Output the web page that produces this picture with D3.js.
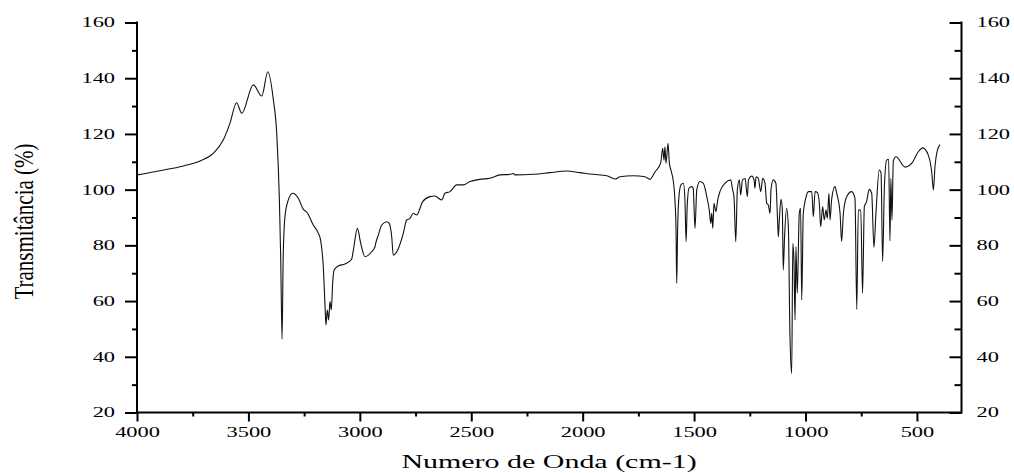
<!DOCTYPE html>
<html>
<head>
<meta charset="utf-8">
<script src="https://cdn.jsdelivr.net/npm/d3@7"></script>
<style>
  html, body { margin: 0; padding: 0; background: #fff; }
  svg { display: block; }
</style>
</head>
<body>
<div id="chart"></div>
<script>
// Wavenumber (cm-1) and transmittance (%)
const waveNumbers = [
  4000, 3897, 3792, 3717, 3658, 3613, 3583, 3553, 3530, 3478, 3440, 3413, 3388, 3373, 3361, 3355, 3349, 3344,
  3336, 3321, 3301, 3276, 3254, 3236, 3209, 3186, 3176, 3164, 3156, 3152, 3146, 3140, 3134, 3128, 3122, 3115,
  3097, 3067, 3037, 3029, 3011, 2996, 2977, 2947, 2932, 2928, 2917, 2902, 2879, 2868, 2857, 2850, 2827, 2805,
  2790, 2775, 2760, 2745, 2718, 2685, 2663, 2633, 2618, 2595, 2565, 2536, 2506, 2461, 2416, 2371, 2326, 2311,
  2304, 2222, 2147, 2072, 2012, 1952, 1892, 1855, 1833, 1773, 1720, 1698, 1675, 1650, 1641, 1635, 1631, 1626,
  1617, 1611, 1604, 1593, 1586, 1581, 1578, 1574, 1568, 1559, 1548, 1541, 1536, 1531, 1523, 1511, 1504, 1496,
  1488, 1474, 1459, 1443, 1432, 1425, 1421, 1416, 1411, 1402, 1394, 1384, 1361, 1336, 1327, 1321, 1313, 1306,
  1297, 1291, 1283, 1271, 1261, 1256, 1241, 1231, 1227, 1222, 1212, 1201, 1192, 1182, 1174, 1167, 1159, 1155,
  1145, 1133, 1126, 1122, 1118, 1110, 1104, 1100, 1094, 1085, 1077, 1070, 1062, 1057, 1052, 1047, 1043, 1037,
  1028, 1022, 1017, 1010, 999, 987, 972, 965, 957, 947, 938, 932, 923, 916, 908, 902, 895, 890,
  883, 868, 860, 845, 838, 830, 815, 793, 778, 770, 763, 752, 744, 736, 726, 714, 703, 693,
  684, 669, 661, 654, 646, 636, 627, 621, 617, 612, 606, 594, 553, 523, 494, 474, 449, 434,
  426, 419, 408, 396
];
const transmittance = [
  105.3, 106.8, 108.5, 110.3, 113.0, 117.8, 123.8, 131.2, 127.4, 137.6, 133.6, 142.3, 132.2, 120.2, 96.3, 75.0, 46.3, 75.9,
  90.3, 96.3, 98.7, 96.9, 93.0, 91.7, 87.3, 84.3, 81.9, 72.3, 58.0, 51.4, 56.8, 53.2, 59.8, 56.8, 66.4, 71.2,
  72.6, 73.3, 75.0, 78.3, 86.1, 80.7, 75.9, 77.7, 79.5, 81.0, 83.7, 87.3, 88.5, 87.9, 83.1, 76.5, 78.9, 84.3,
  89.1, 89.7, 91.5, 90.9, 95.7, 97.5, 97.7, 96.3, 98.7, 99.3, 101.7, 101.7, 102.9, 103.7, 104.1, 105.3, 105.5, 105.8,
  105.3, 105.5, 106.1, 106.7, 106.1, 105.5, 105.0, 103.8, 104.6, 105.0, 104.6, 103.7, 106.4, 109.5, 114.8, 110.6, 115.4, 109.5,
  116.6, 109.5, 107.0, 102.9, 96.3, 85.5, 66.4, 85.5, 97.5, 101.7, 102.3, 96.3, 81.3, 93.9, 100.5, 101.1, 100.5, 86.1,
  99.9, 102.9, 102.3, 97.5, 92.7, 87.9, 91.5, 86.1, 95.1, 92.1, 96.3, 99.3, 102.3, 103.5, 99.9, 97.5, 81.3, 99.9,
  103.5, 98.1, 103.5, 104.0, 97.5, 103.5, 104.9, 103.5, 100.5, 104.6, 104.1, 99.3, 104.1, 102.3, 95.1, 94.5, 91.5, 99.9,
  103.5, 102.3, 90.3, 83.1, 88.5, 96.5, 92.7, 71.2, 83.1, 93.3, 86.7, 48.4, 34.0, 80.7, 74.7, 53.2, 79.5, 62.8,
  91.5, 93.3, 60.4, 91.5, 96.9, 99.3, 99.3, 90.3, 99.3, 99.0, 95.1, 86.7, 93.9, 89.1, 92.7, 89.7, 98.7, 89.1,
  96.3, 101.1, 98.7, 91.5, 81.3, 91.5, 97.5, 99.3, 96.9, 57.0, 92.7, 92.7, 62.8, 93.9, 95.7, 100.1, 98.7, 79.3,
  91.5, 107.0, 106.0, 74.2, 101.1, 110.6, 110.9, 81.6, 104.0, 89.1, 110.3, 111.8, 108.1, 109.5, 113.6, 115.0, 112.4, 106.5,
  99.9, 108.2, 114.2, 116.2
];
const xTicks = [4000, 3500, 3000, 2500, 2000, 1500, 1000, 500];
const xMinorTicks = [3750, 3250, 2750, 2250, 1750, 1250, 750];
const yTicks = [20, 40, 60, 80, 100, 120, 140, 160];
const yMinorTicks = [30, 50, 70, 90, 110, 130, 150];

(function () {
  const W = 1014, H = 473;
  const plot = { left: 137, right: 961.5, top: 22.5, bottom: 412.5 };
  const fontFam = "'Liberation Serif', 'Times New Roman', serif";
  const stretch = 1.6;

  const svg = d3.select("#chart").append("svg")
    .attr("width", W).attr("height", H);

  const x = d3.scaleLinear().domain([4000, 300]).range([plot.left, plot.right]);
  const y = d3.scaleLinear().domain([20, 160]).range([plot.bottom, plot.top]);

  // stretch tick labels horizontally like the source image
  function styleLabels(g) {
    g.select(".domain").remove();
    g.selectAll("line").attr("stroke", "#000").attr("stroke-width", 2);
    g.selectAll("text")
      .attr("fill", "#000")
      .style("font-family", fontFam)
      .style("font-size", "14px")
      .each(function () {
        const t = d3.select(this);
        const tx = +t.attr("x") || 0;
        t.attr("x", tx / stretch).attr("transform", `scale(${stretch},1)`);
      });
  }

  // minor ticks
  svg.append("g").attr("transform", `translate(0,${plot.bottom})`)
    .call(d3.axisBottom(x).tickValues(xMinorTicks).tickSize(4).tickFormat(""))
    .call(styleLabels);
  svg.append("g").attr("transform", `translate(${plot.left},0)`)
    .call(d3.axisLeft(y).tickValues(yMinorTicks).tickSize(5).tickFormat(""))
    .call(styleLabels);
  svg.append("g").attr("transform", `translate(${plot.right},0)`)
    .call(d3.axisRight(y).tickValues(yMinorTicks).tickSize(-7).tickFormat(""))
    .call(styleLabels);

  // major ticks
  svg.append("g").attr("transform", `translate(0,${plot.bottom})`)
    .call(d3.axisBottom(x).tickValues(xTicks).tickSize(9).tickPadding(6).tickFormat(d3.format("d")))
    .call(styleLabels);
  svg.append("g").attr("transform", `translate(${plot.left},0)`)
    .call(d3.axisLeft(y).tickValues(yTicks).tickSize(12).tickPadding(10).tickFormat(d3.format("d")))
    .call(styleLabels);
  svg.append("g").attr("transform", `translate(${plot.right},0)`)
    .call(d3.axisRight(y).tickValues(yTicks).tickSize(-12).tickPadding(15).tickFormat(d3.format("d")))
    .call(styleLabels);

  // axis lines (no top frame)
  const frame = svg.append("g").attr("stroke", "#000").attr("stroke-width", 2).attr("fill", "none");
  frame.append("line").attr("x1", plot.left).attr("x2", plot.right).attr("y1", plot.bottom).attr("y2", plot.bottom);
  frame.append("line").attr("x1", plot.left).attr("x2", plot.left).attr("y1", plot.top - 1).attr("y2", plot.bottom + 1);
  frame.append("line").attr("x1", plot.right).attr("x2", plot.right).attr("y1", plot.top - 1).attr("y2", plot.bottom + 1);

  // spectrum
  const data = waveNumbers.map((w, i) => ({ w, t: transmittance[i] }));
  const line = d3.line()
    .x(d => x(d.w))
    .y(d => y(d.t))
    .curve(d3.curveMonotoneX);

  svg.append("path")
    .datum(data)
    .attr("d", line)
    .attr("fill", "none")
    .attr("stroke", "#111")
    .attr("stroke-width", 1.1)
    .attr("stroke-linejoin", "round");

  // axis titles
  svg.append("text")
    .attr("transform", `translate(549,468) scale(1.62,1)`)
    .attr("text-anchor", "middle")
    .style("font-family", fontFam)
    .style("font-size", "18.5px")
    .text("Numero de Onda (cm-1)");

  svg.append("text")
    .attr("transform", `translate(33,221.5) rotate(-90) scale(1,1.3)`)
    .attr("text-anchor", "middle")
    .style("font-family", fontFam)
    .style("font-size", "21px")
    .text("Transmitância (%)");
})();
</script>
</body>
</html>
